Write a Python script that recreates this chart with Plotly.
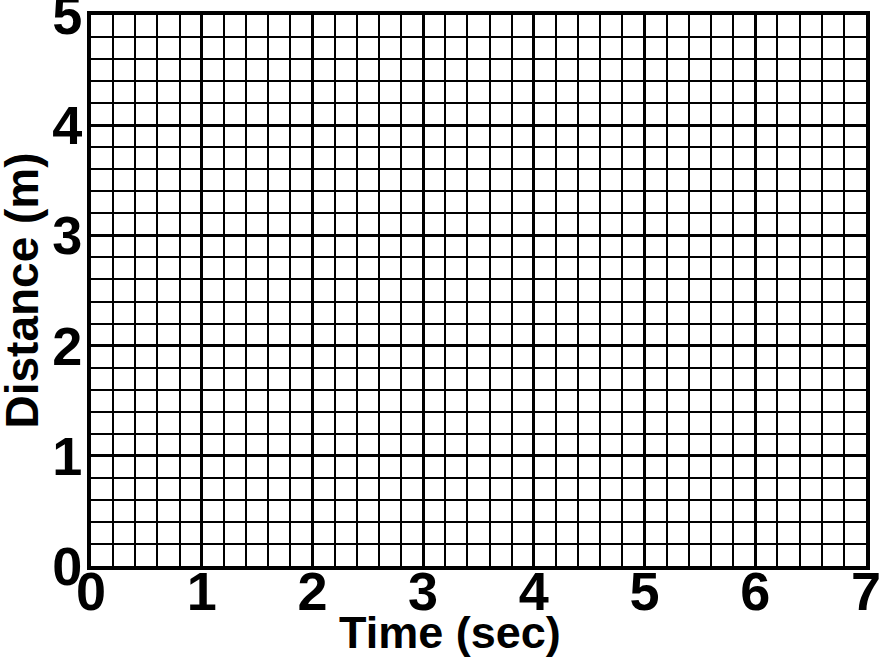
import plotly.graph_objects as go

x_ticks = [0, 1, 2, 3, 4, 5, 6, 7]
y_ticks = [0, 1, 2, 3, 4, 5]
x_title = "Time (sec)"
y_title = "Distance (m)"
minor_step = 0.2

tick_font = dict(family="Liberation Sans, Arial", size=54, color="black", weight="bold")
title_font = dict(family="Liberation Sans, Arial", size=45, color="black", weight="bold")

fig = go.Figure()
fig.add_trace(go.Scatter(x=[], y=[], mode="lines", showlegend=False))

axis_common = dict(
    showgrid=True, gridcolor="black", gridwidth=3,
    showline=True, linecolor="black", linewidth=4, mirror=True,
    zeroline=False, ticks="", tickfont=tick_font,
    ticklabeloverflow="allow",
    minor=dict(dtick=minor_step, showgrid=True, gridcolor="black", gridwidth=1.8),
    fixedrange=True,
)

fig.update_xaxes(range=[x_ticks[0], x_ticks[-1]], tickvals=x_ticks,
                 ticktext=[str(v) for v in x_ticks], ticklabelstandoff=-25, **axis_common)
fig.update_yaxes(range=[y_ticks[0], y_ticks[-1]], tickvals=y_ticks,
                 ticktext=[str(v) for v in y_ticks], ticklabelstandoff=-6, **axis_common)

fig.add_annotation(text=x_title, xref="paper", yref="paper", x=0.463, y=0, yshift=-66,
                   showarrow=False, font=title_font, xanchor="center", yanchor="middle")
fig.add_annotation(text=y_title, xref="paper", yref="paper", x=0, xshift=-70, y=0.5, yshift=0,
                   textangle=-90, showarrow=False, font=dict(title_font, size=46),
                   xanchor="center", yanchor="middle")

fig.update_layout(
    width=880, height=660,
    margin=dict(l=91, r=14, t=15, b=94, autoexpand=False),
    paper_bgcolor="white", plot_bgcolor="white",
)

fig.write_html("out.html", config={"displayModeBar": False},
               post_script="document.body.style.margin='0';document.body.style.overflow='hidden';")
